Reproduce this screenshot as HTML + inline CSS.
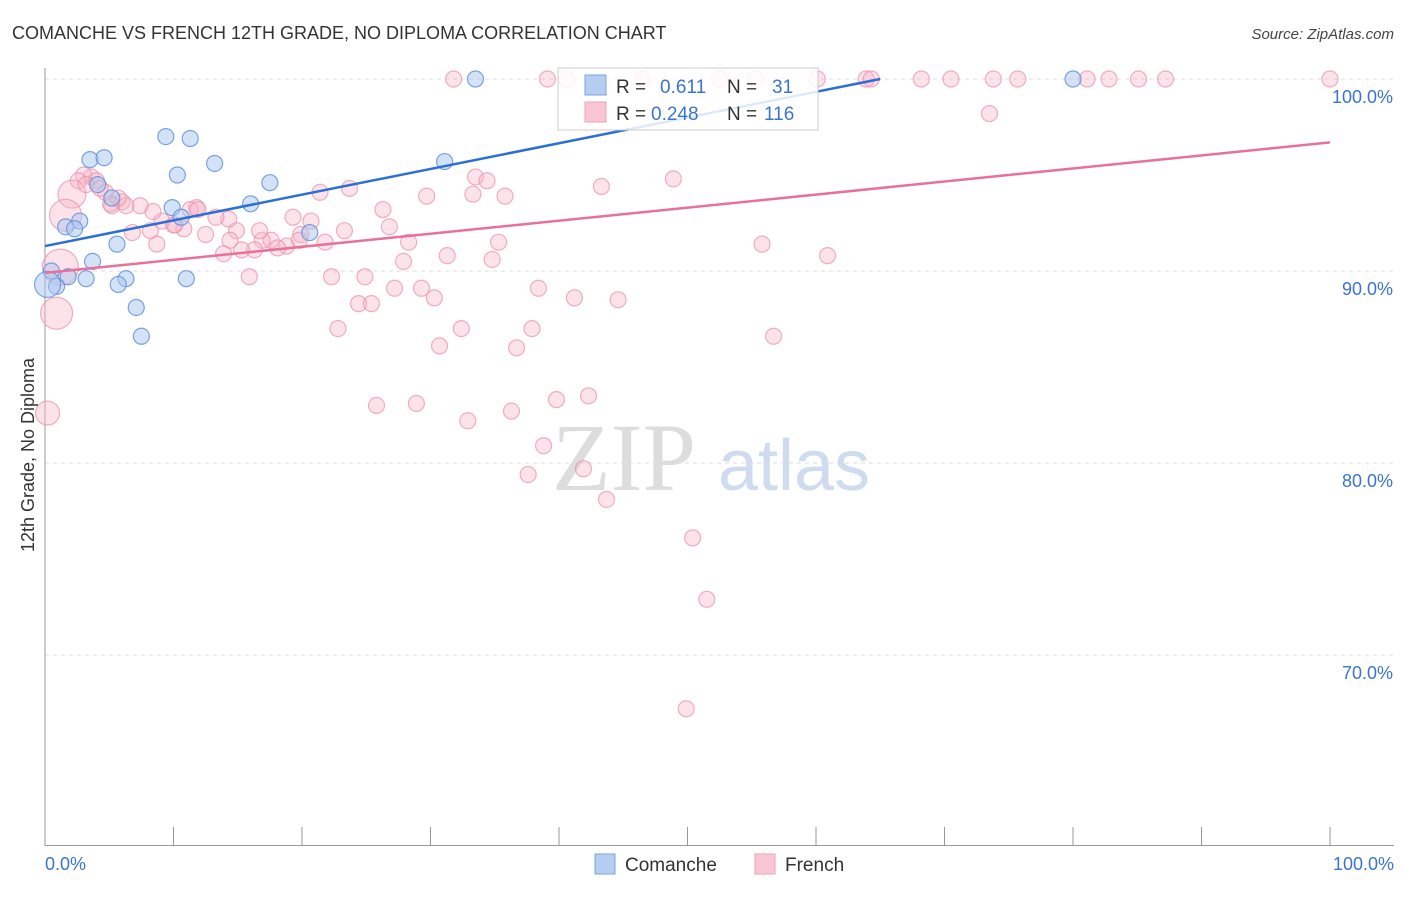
<!DOCTYPE html>
<html><head><meta charset="utf-8"><style>
body{margin:0;background:#fff;font-family:"Liberation Sans",sans-serif}
</style></head><body>
<svg width="1406" height="892" xmlns="http://www.w3.org/2000/svg" font-family="Liberation Sans, sans-serif">
<text x="12" y="39" font-size="18" fill="#333">COMANCHE VS FRENCH 12TH GRADE, NO DIPLOMA CORRELATION CHART</text>
<text x="1394" y="39" font-size="15" fill="#444" font-style="italic" text-anchor="end">Source: ZipAtlas.com</text>
<g id="grid"></g>
<text x="552" y="490" font-size="96" font-family="Liberation Serif, serif" fill="#ddd">ZIP</text>
<text x="718" y="490" font-size="72" fill="#cfdcf0">atlas</text>
<g id="pts"></g>
<g id="lines"></g>
<text transform="translate(34,455) rotate(-90)" font-size="18" fill="#333" text-anchor="middle">12th Grade, No Diploma</text>
<g>
<rect x="558" y="68" width="260" height="62" fill="#fff" fill-opacity="0.85" stroke="#ccc"/>
<rect x="585" y="75" width="21" height="20" fill="#b5cdf0" stroke="#7aa3e0"/>
<text x="616" y="93" font-size="19" fill="#333">R = </text><text x="660" y="93" font-size="19" fill="#3a74d0">0.611</text>
<text x="727" y="93" font-size="19" fill="#333">N = </text><text x="772" y="93" font-size="19" fill="#3a74d0">31</text>
<rect x="585" y="102" width="21" height="20" fill="#f9c6d5" stroke="#eca0b8"/>
<text x="616" y="120" font-size="19" fill="#333">R = </text><text x="651" y="120" font-size="19" fill="#3a74d0">0.248</text>
<text x="727" y="120" font-size="19" fill="#333">N = </text><text x="764" y="120" font-size="19" fill="#3a74d0">116</text>
</g>
<g>
<rect x="595" y="854" width="20" height="20" fill="#b5cdf0" stroke="#7aa3e0"/>
<text x="625" y="871" font-size="19" fill="#333">Comanche</text>
<rect x="755" y="854" width="20" height="20" fill="#f9c6d5" stroke="#eca0b8"/>
<text x="785" y="871" font-size="19" fill="#333">French</text>
</g>
</svg>
<script>
const blueX=[33.5,80.0,9.4,11.3,3.5,4.6,13.2,10.3,17.5,4.1,5.2,16.0,9.9,10.6,2.7,1.6,2.3,31.1,20.6,5.6,3.7,6.3,11.0,3.2,1.8,0.5,5.7,0.9,7.1,7.5,0.2];
const blueY=[100,100,97.0,96.9,95.8,95.9,95.6,95.0,94.6,94.5,93.8,93.5,93.3,92.8,92.6,92.3,92.2,95.7,92.0,91.4,90.5,89.6,89.6,89.6,89.7,90.0,89.3,89.2,88.1,86.6,89.3];
const blueR=[8,8,8,8,8,8,8,8,8,8,8,8,8,8,8,8,8,8,8,8,8,8,8,8,8,8,8,8,8,8,13];
const pinkPx=[[453,79],[548,79],[567,79],[643,79],[720,79],[756,79],[817,79],[866,79],[871,79],[922,79],[951,79],[993,79],[1018,79],[1087,79],[1109,79],[1138,79],[1165,79],[1330,79],[989,114],[673,178],[602,187],[475,177],[487,181],[473,195],[505,197],[427,196],[350,188],[320,193],[383,210],[390,226],[409,243],[498,243],[492,259],[447,256],[404,261],[365,277],[332,277],[249,277],[311,222],[293,218],[301,234],[271,241],[262,240],[287,246],[278,248],[255,250],[242,250],[223,253],[236,231],[229,219],[216,217],[205,235],[197,208],[190,210],[184,229],[174,224],[162,222],[153,212],[140,206],[132,233],[122,201],[126,206],[112,206],[118,198],[106,193],[91,177],[84,175],[97,180],[79,181],[72,195],[66,216],[60,267],[56,313],[48,414],[157,245],[345,230],[325,242],[358,304],[338,329],[372,304],[395,289],[422,288],[434,298],[461,328],[440,345],[517,347],[532,329],[538,288],[574,298],[618,300],[762,245],[827,255],[773,336],[376,405],[416,403],[468,421],[512,412],[556,399],[588,396],[544,446],[528,474],[583,469],[606,499],[693,537],[707,600],[686,709],[175,224],[198,209],[86,185],[100,188],[110,203],[150,230],[230,240],[260,230],[300,240]];
const pinkX=pinkPx.map(p=>+((p[0]-45)/12.85).toFixed(1));
const pinkY=pinkPx.map(p=>+(100-(p[1]-79)/19.2).toFixed(1));
const pinkR=pinkPx.map((p,i)=>i==69?14:i==70?16:i==71?18:i==72?16:i==73?12:8);
const yTicks=[100,90,80,70];
const yTickLabels=["100.0%","90.0%","80.0%","70.0%"];
const xTickLabels=["0.0%","100.0%"];
const blueLine=[[0,91.3],[65,100]];
const pinkLine=[[0,89.9],[100,96.7]];
const X=v=>45+v*12.85, Y=v=>79+(100-v)*19.2;
const NS="http://www.w3.org/2000/svg";
function mk(t,a,p){const e=document.createElementNS(NS,t);for(const k in a)e.setAttribute(k,a[k]);p.appendChild(e);return e;}
const g=document.getElementById('grid');
yTicks.forEach((t,i)=>{
 const l=mk('line',{x1:45,x2:1394,y1:Y(t),y2:Y(t),stroke:'#ddd','stroke-dasharray':'4,4'},g);
 
 
 const tx=mk('text',{x:1393,y:Y(t)+24,'font-size':18,fill:'#3a74d0','text-anchor':'end'},g);tx.textContent=yTickLabels[i];
 
 
});
mk('line',{x1:45,x2:45,y1:68,y2:846,stroke:'#999'},g);
mk('line',{x1:45,x2:1394,y1:845.5,y2:845.5,stroke:'#999'},g);
for(let i=0;i<=10;i++){mk('line',{x1:X(i*10),x2:X(i*10),y1:827,y2:846,stroke:'#999'},g);}
[[0,'start',45],[1,'end',1394]].forEach(([i,a,x])=>{const t=mk('text',{x:x,y:870,'font-size':18,fill:'#3a74d0','text-anchor':a},g);t.textContent=xTickLabels[i];
 
 });
const pg=document.getElementById('pts');
pinkX.forEach((x,i)=>{const c=mk('circle',{cx:X(x),cy:Y(pinkY[i]),r:pinkR[i],fill:'#f7b6c9','fill-opacity':0.4,stroke:'#eb8fab','stroke-opacity':0.7,'stroke-width':1.2},pg);
 
 });
blueX.forEach((x,i)=>{const c=mk('circle',{cx:X(x),cy:Y(blueY[i]),r:blueR[i],fill:'#a9c6ef','fill-opacity':0.5,stroke:'#5a8fdc','stroke-opacity':0.8,'stroke-width':1.2},pg);
 
 });
const lg=document.getElementById('lines');
const bl=mk('line',{x1:X(blueLine[0][0]),y1:Y(blueLine[0][1]),x2:X(blueLine[1][0]),y2:Y(blueLine[1][1]),stroke:'#2a6fd6','stroke-width':2.5},lg);


const pl=mk('line',{x1:X(pinkLine[0][0]),y1:Y(pinkLine[0][1]),x2:X(pinkLine[1][0]),y2:Y(pinkLine[1][1]),stroke:'#e8709a','stroke-width':2.5},lg);


</script>
</body></html>
